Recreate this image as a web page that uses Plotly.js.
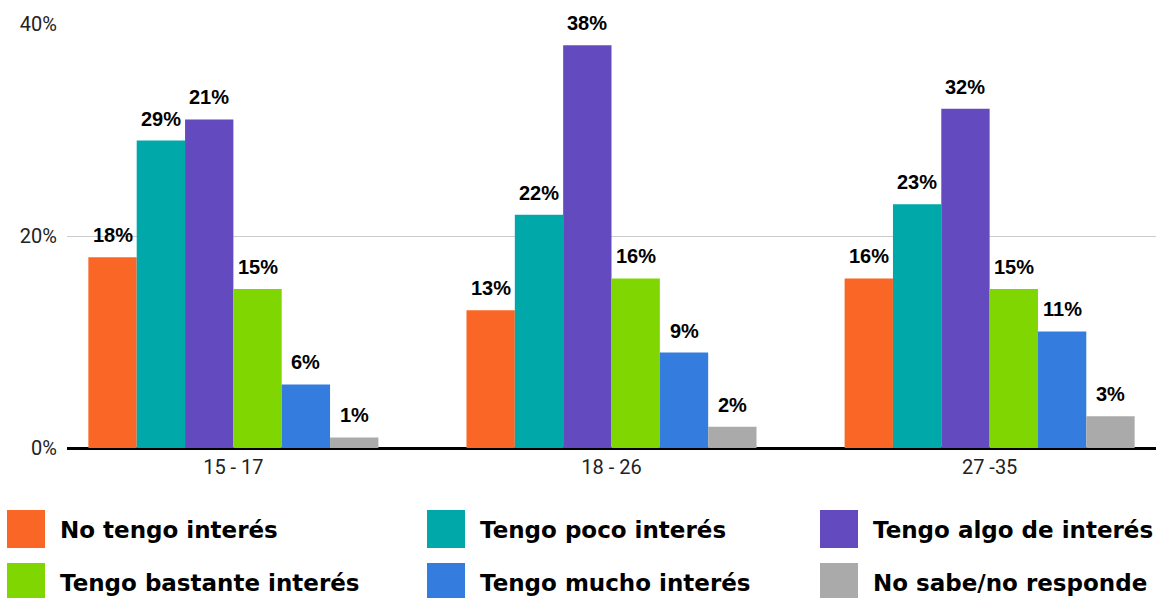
<!DOCTYPE html>
<html>
<head>
<meta charset="utf-8">
<script src="https://cdn.plot.ly/plotly-3.0.1.min.js"></script>
<style>
html,body{margin:0;padding:0;background:#fff;}
#chart{width:1175px;height:598px;}
</style>
</head>
<body>
<div id="chart"></div>
<script>
// ---- data ----
const categories = ["15 - 17", "18 - 26", "27 -35"];
const seriesNames = ["No tengo interés", "Tengo poco interés", "Tengo algo de interés",
                     "Tengo bastante interés", "Tengo mucho interés", "No sabe/no responde"];
const noTengo     = [18, 13, 16];
const poco        = [29, 22, 23];
const algo        = [31, 38, 32];
const bastante    = [15, 16, 15];
const mucho       = [6, 9, 11];
const noSabe      = [1, 2, 3];
// data labels as printed on the chart
const lblNoTengo  = ["18%", "13%", "16%"];
const lblPoco     = ["29%", "22%", "23%"];
const lblAlgo     = ["21%", "38%", "32%"];
const lblBastante = ["15%", "16%", "15%"];
const lblMucho    = ["6%", "9%", "11%"];
const lblNoSabe   = ["1%", "2%", "3%"];
const yTickVals   = [0, 20, 40];
const yTickText   = ["0%", "20%", "40%"];

const values = [noTengo, poco, algo, bastante, mucho, noSabe];
const labels = [lblNoTengo, lblPoco, lblAlgo, lblBastante, lblMucho, lblNoSabe];
const colors = ["#FA6626", "#00A8AA", "#634BBF", "#80D600", "#347DDF", "#AAAAAA"];

// ---- layout geometry ----
const W = 1175, H = 598;
const M = {l: 67, r: 19, t: 24, b: 150};
const PW = W - M.l - M.r, PH = H - M.t - M.b;
const bargap = 0.233;
const xr = [-0.44, 2.44];
const px2x = p => (p - M.l) / PW;
const px2y = p => (H - M.b - p) / PH;

const traces = values.map((v, i) => ({
  type: "bar",
  name: seriesNames[i],
  x: categories,
  y: v,
  marker: {color: colors[i], line: {width: 0}},
  hoverinfo: "skip",
  showlegend: false
}));

const annotations = [];
const n = values.length;
const bw = (1 - bargap) / n;
values.forEach((v, i) => {
  v.forEach((val, c) => {
    annotations.push({
      x: c - (1 - bargap) / 2 + (i + 0.5) * bw,
      y: val, xref: "x", yref: "y",
      text: labels[i][c], showarrow: false,
      xanchor: "center", yanchor: "bottom", yshift: 9,
      font: {family: "Arial, 'Liberation Sans', sans-serif", size: 20, color: "#000", weight: 700}
    });
  });
});

// custom legend: 3 columns x 2 rows
const legCols = [7, 427, 820];
const legRows = [510, 563];
const sq = 38;
const shapes = [];
seriesNames.forEach((name, i) => {
  const col = i % 3, row = Math.floor(i / 3);
  const x0 = legCols[col], y0 = legRows[row];
  shapes.push({
    type: "rect", xref: "paper", yref: "paper",
    x0: px2x(x0), x1: px2x(x0 + sq), y0: px2y(y0), y1: px2y(y0 + sq),
    fillcolor: colors[i], line: {width: 0}
  });
  annotations.push({
    xref: "paper", yref: "paper",
    x: px2x(x0 + sq + 13), y: px2y(y0 + sq / 2 + 0.5),
    xanchor: "left", yanchor: "middle", showarrow: false,
    text: name,
    font: {family: "'DejaVu Sans', sans-serif", size: 23, color: "#000", weight: 700}
  });
});

const layout = {
  width: W, height: H,
  margin: M,
  paper_bgcolor: "#fff", plot_bgcolor: "#fff",
  barmode: "group", bargap: bargap, bargroupgap: 0,
  showlegend: false,
  xaxis: {
    type: "category", range: xr, fixedrange: true,
    showgrid: false, showline: true, linecolor: "#000", linewidth: 2,
    ticks: "", zeroline: false, ticklabelstandoff: 0,
    tickfont: {family: "Roboto, Arial, sans-serif", size: 20, color: "#222"}
  },
  yaxis: {
    range: [0, 40], fixedrange: true,
    tickvals: yTickVals, ticktext: yTickText,
    showgrid: true, gridcolor: "#CCCCCC", gridwidth: 1,
    zeroline: true, zerolinecolor: "#000", zerolinewidth: 2,
    showline: false, ticks: "", ticklabelstandoff: 9,
    tickfont: {family: "Roboto, Arial, sans-serif", size: 20, color: "#222"}
  },
  shapes: shapes,
  annotations: annotations
};

Plotly.newPlot("chart", traces, layout, {displayModeBar: false, staticPlot: true});
</script>
</body>
</html>
